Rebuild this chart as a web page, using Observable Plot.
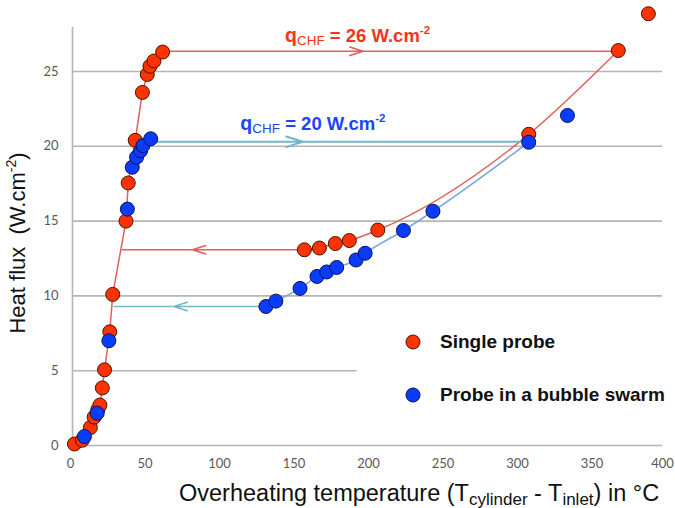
<!DOCTYPE html>
<html><head><meta charset="utf-8">
<script src="https://cdn.jsdelivr.net/npm/d3@7"></script>
<script src="https://cdn.jsdelivr.net/npm/@observablehq/plot@0.6"></script>
<style>body{margin:0;background:#fff}</style>
</head><body><div id="chart"></div>
<script>
// Single probe (red): boiling curve up to CHF, then film-boiling branch
const singleT = [1.3, 6.5, 12, 14.5, 17, 18.4, 20, 21.5, 25, 27, 35.9, 37.4, 42.1, 46.9, 50.2, 52, 54.7, 60.5];
const singleQ = [0.1, 0.35, 1.2, 1.9, 2.4, 2.7, 3.85, 5.06, 7.6, 10.1, 15.0, 17.55, 20.4, 23.6, 24.8, 25.35, 25.7, 26.3];
const singleFilmT = [155.6, 165.7, 176.4, 185.8, 204.9, 306.2, 366.3];
const singleFilmQ = [13.08, 13.2, 13.5, 13.7, 14.4, 20.8, 26.4];
const singleExtraT = [386.5];
const singleExtraQ = [28.86];

// Probe in a bubble swarm (blue)
const swarmT = [8, 16.6, 24.4, 36.8, 40.1, 43, 45.7, 47.3, 52.5];
const swarmQ = [0.6, 2.16, 7.0, 15.8, 18.6, 19.27, 19.7, 20.05, 20.5];
const swarmFilmT = [129.8, 136.5, 152.7, 164.1, 170.6, 177.3, 190.3, 196.4, 222.1, 241.9, 306.2];
const swarmFilmQ = [9.29, 9.65, 10.5, 11.3, 11.6, 11.9, 12.4, 12.85, 14.37, 15.66, 20.27];
const swarmExtraT = [332.2];
const swarmExtraQ = [22.06];

// Hysteresis jumps: [from x, arrow tip x, to x, q]
const redJumpUp = [60.5, 195, 366.3, 26.35];
const redJumpDown = [155.6, 80.5, 33.4, 13.08];
const blueJumpUp = [55.8, 154.5, 306.2, 20.3];
const blueJumpDown = [129.8, 68.1, 27.8, 9.29];

const xTicks = [0, 50, 100, 150, 200, 250, 300, 350];
const xTickLast = [400];
const yTicks = [0, 5, 10, 15, 20, 25];
const gridFull = [10, 15, 20, 25];
const gridShort = [5];

const series = ["Single probe", "Probe in a bubble swarm"];
const qchfLabels = [{q: 26, x: 143, y: 26.95}, {q: 20, x: 113, y: 21.05}];

const RED = "#ff3300", BLUE = "#0a3cff";
const REDLINE = "#e0605a", BLUELINE = "#7ea8dc", TEAL = "#74b7cb";

const pts = (xs, ys) => xs.map((x, i) => ({x, y: ys[i]}));
const redPts = pts(singleT, singleQ).concat(pts(singleFilmT, singleFilmQ), pts(singleExtraT, singleExtraQ));
const bluePts = pts(swarmT, swarmQ).concat(pts(swarmFilmT, swarmFilmQ), pts(swarmExtraT, swarmExtraQ));
const arrowPart = (j) => [{x1: j[0], x2: j[1], y: j[3]}];
const restPart = (j) => [{x1: j[1], x2: j[2], y: j[3]}];

const chart = Plot.plot({
  width: 675, height: 508,
  marginLeft: 72, marginRight: 7, marginTop: 27, marginBottom: 63,
  x: {domain: [0, 400]},
  y: {domain: [0, 27.94]},
  style: {fontFamily: "Lato, sans-serif", fontSize: "13px", background: "#fff"},
  marks: [
    Plot.ruleY(gridFull, {x1: 0, x2: 396, stroke: "#b5b5b5", strokeWidth: 1.6}),
    Plot.ruleY(gridShort, {x1: 0, x2: 191, stroke: "#b5b5b5", strokeWidth: 1.6}),
    Plot.ruleY([0], {x1: 0, x2: 396, stroke: "#b5b5b5", strokeWidth: 1.6}),
    Plot.ruleX([0], {y1: 0, y2: 27.94, stroke: "#b5b5b5", strokeWidth: 1.6}),
    Plot.axisX(xTicks, {tickSize: 0, tickPadding: 13, dx: -2, label: null, fill: "#595959", fontSize: 13}),
    Plot.axisX(xTickLast, {tickSize: 0, tickPadding: 13, dx: -6, label: null, fill: "#595959", fontSize: 13}),
    Plot.axisY(yTicks, {tickSize: 0, tickPadding: 14, label: null, fill: "#595959", fontSize: 13}),
    // lines
    Plot.line(pts(singleT, singleQ), {x: "x", y: "y", stroke: REDLINE, strokeWidth: 1.5}),
    Plot.line(pts(swarmFilmT, swarmFilmQ), {x: "x", y: "y", stroke: BLUELINE, strokeWidth: 1.6, curve: "monotone-x"}),
    Plot.line(pts(singleFilmT, singleFilmQ), {x: "x", y: "y", stroke: REDLINE, strokeWidth: 1.5, curve: "monotone-x"}),
    Plot.ruleY(restPart(blueJumpUp), {x1: "x1", x2: "x2", y: "y", stroke: TEAL, strokeWidth: 2}),
    Plot.arrow(arrowPart(blueJumpUp), {x1: "x1", x2: "x2", y1: "y", y2: "y", stroke: TEAL, strokeWidth: 2, headAngle: 36, headLength: 13, insetStart: 0, insetEnd: 0}),
    Plot.ruleY(restPart(blueJumpDown), {x1: "x1", x2: "x2", y: "y", stroke: TEAL, strokeWidth: 1.6}),
    Plot.arrow(arrowPart(blueJumpDown), {x1: "x1", x2: "x2", y1: "y", y2: "y", stroke: TEAL, strokeWidth: 1.6, headAngle: 36, headLength: 13, insetStart: 0, insetEnd: 0}),
    Plot.ruleY(restPart(redJumpUp), {x1: "x1", x2: "x2", y: "y", stroke: REDLINE, strokeWidth: 1.6}),
    Plot.arrow(arrowPart(redJumpUp), {x1: "x1", x2: "x2", y1: "y", y2: "y", stroke: REDLINE, strokeWidth: 1.6, headAngle: 36, headLength: 13, insetStart: 0, insetEnd: 0}),
    Plot.ruleY(restPart(redJumpDown), {x1: "x1", x2: "x2", y: "y", stroke: REDLINE, strokeWidth: 1.6}),
    Plot.arrow(arrowPart(redJumpDown), {x1: "x1", x2: "x2", y1: "y", y2: "y", stroke: REDLINE, strokeWidth: 1.6, headAngle: 36, headLength: 13, insetStart: 0, insetEnd: 0}),
    // points
    Plot.dot(redPts, {x: "x", y: "y", r: 7, fill: RED, stroke: "#4a1400", strokeWidth: 1}),
    Plot.dot(bluePts, {x: "x", y: "y", r: 7, fill: BLUE, stroke: "#0a1450", strokeWidth: 1})
  ]
});
document.getElementById("chart").appendChild(chart);

const sx = chart.scale("x"), sy = chart.scale("y");
const svg = d3.select(chart);
const AR = "'Liberation Sans', Arial, sans-serif";

// qCHF annotations
qchfLabels.forEach((d, i) => {
  const t = svg.append("text").attr("x", sx.apply(d.x)).attr("y", sy.apply(d.y)).attr("text-anchor", "start")
    .attr("fill", i === 0 ? "#f5341c" : "#1c44ff").style("font-family", AR).style("font-size", "19.5px");
  t.append("tspan").text("q").style("font-weight", "bold");
  t.append("tspan").text("CHF").attr("dy", 3).style("font-size", "13.5px");
  t.append("tspan").text(" = " + d.q + " W.cm").attr("dy", -3).style("font-weight", "bold").style("font-size", "18.5px");
  t.append("tspan").text("-2").attr("dy", -8).style("font-weight", "bold").style("font-size", "11.5px");
});

// axis titles
const xl = svg.append("text").attr("x", 179).attr("y", 501).attr("text-anchor", "start")
  .style("font-family", AR).style("font-size", "23.5px").attr("fill", "#111");
xl.append("tspan").text("Overheating temperature (T");
xl.append("tspan").text("cylinder").attr("dy", 4).style("font-size", "17px");
xl.append("tspan").text(" - T").attr("dy", -4);
xl.append("tspan").text("inlet").attr("dy", 4).style("font-size", "17px");
xl.append("tspan").text(") in °C").attr("dy", -4);

const yl = svg.append("text").attr("transform", "translate(25,243) rotate(-90)").attr("text-anchor", "middle")
  .style("font-family", AR).style("font-size", "22px").attr("fill", "#111");
yl.append("tspan").text("Heat flux  (W.cm");
yl.append("tspan").text("-2").attr("dy", -9).style("font-size", "14px");
yl.append("tspan").text(")").attr("dy", 9);

// legend
const colors = [RED, BLUE], strokes = ["#4a1400", "#0a1450"], ly = [342, 395];
series.forEach((s, i) => {
  svg.append("circle").attr("cx", 413).attr("cy", ly[i]).attr("r", 7).attr("fill", colors[i]).attr("stroke", strokes[i]);
  svg.append("text").attr("x", 440).attr("y", ly[i] + 6).attr("text-anchor", "start").text(s).style("font-family", AR)
    .style("font-size", "19px").style("font-weight", "bold").attr("fill", "#111");
});
</script>
</body></html>
